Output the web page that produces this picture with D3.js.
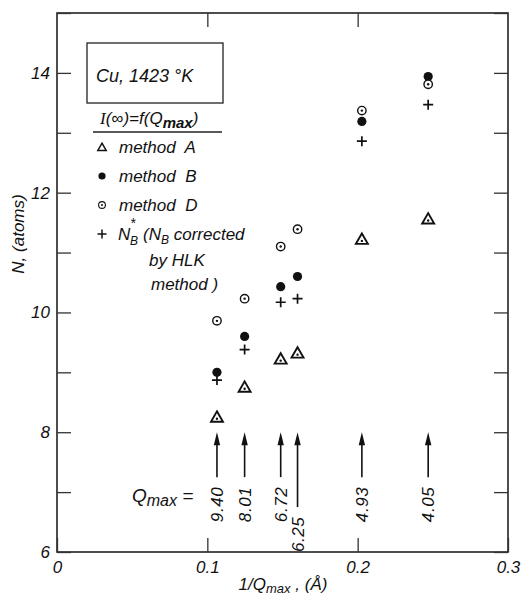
<!DOCTYPE html>
<html>
<head>
<meta charset="utf-8">
<script src="https://cdn.jsdelivr.net/npm/d3@7"></script>
<style>
  body { margin: 0; background: #fff; }
  text { font-family: "Liberation Sans", Arial, sans-serif; font-style: italic; fill: #111; }
</style>
</head>
<body>
<div id="chart"></div>
<script>

// Q_max values (1/Å) and the 1/Q_max positions they give
var qmaxLabels = ['9.40', '8.01', '6.72', '6.25', '4.93', '4.05'];
var invQ = [0.1064, 0.1248, 0.1488, 0.1600, 0.2028, 0.2469];

// coordination numbers N (atoms)
var methodA = [8.25, 8.75, 9.22, 9.32, 11.22, 11.56];
var methodB = [9.00, 9.60, 10.43, 10.60, 13.19, 13.94];
var methodD = [9.86, 10.23, 11.10, 11.39, 13.37, 13.81];
var nbStar  = [8.87, 9.38, 10.17, 10.23, 12.86, 13.47];

// arrow tails (in N units), heads sit at N = 8
var arrowTail = [7.25, 7.25, 7.25, 6.75, 7.25, 7.25];

var xTicks = [0, 0.1, 0.2, 0.3];
var xTickLabels = ['0', '0.1', '0.2', '0.3'];
var yTicks = [6, 7, 8, 9, 10, 11, 12, 13, 14, 15];
var yTickLabels = ['6', '', '8', '', '10', '', '12', '', '14', ''];

var W = 522, H = 598;
var m = {left: 57, top: 13, right: 14, bottom: 46};
var w = W - m.left - m.right, h = H - m.top - m.bottom;

var x = d3.scaleLinear().domain([0, 0.3]).range([0, w]);
var y = d3.scaleLinear().domain([6, 15]).range([h, 0]);

var svg = d3.select('#chart').append('svg')
  .attr('width', W).attr('height', H);

var g = svg.append('g').attr('transform', 'translate(' + m.left + ',' + m.top + ')');

// frame
g.append('rect')
  .attr('width', w).attr('height', h)
  .attr('fill', 'none').attr('stroke', '#222').attr('stroke-width', 1.6);

// axes (inward ticks)
g.append('g')
  .call(d3.axisLeft(y).tickValues(yTicks).tickSize(-14).tickPadding(7)
    .tickFormat(function(d, i){ return yTickLabels[i]; }));
g.append('g').attr('transform', 'translate(' + w + ',0)')
  .call(d3.axisRight(y).tickValues(yTicks).tickSize(-14).tickFormat(''));
g.append('g').attr('transform', 'translate(0,' + h + ')')
  .call(d3.axisBottom(x).tickValues(xTicks).tickSize(-14).tickPadding(9)
    .tickFormat(function(d, i){ return xTickLabels[i]; }));
g.append('g')
  .call(d3.axisTop(x).tickValues([0.1, 0.2]).tickSize(-14).tickFormat(''));

g.selectAll('.domain').remove();
g.selectAll('.tick line').attr('stroke', '#333').attr('stroke-width', 1.3);
g.selectAll('.tick text')
  .style('font-family', '"Liberation Sans", Arial, sans-serif')
  .style('font-style', 'italic')
  .attr('font-size', 17).attr('fill', '#111');

// axis titles
svg.append('text')
  .attr('transform', 'translate(24,' + 234 + ') rotate(-90)')
  .attr('text-anchor', 'middle')
  .attr('font-size', 17)
  .text('N, (atoms)');

var xt = svg.append('text')
  .attr('x', 283).attr('y', 590)
  .attr('text-anchor', 'middle')
  .attr('font-size', 17);
xt.append('tspan').text('1/Q');
xt.append('tspan').attr('dy', 3).attr('font-size', 13).text('max');
xt.append('tspan').attr('dy', -3).text(' , (Å)');

// markers
var data = invQ.map(function(v, i){
  return {x: v, a: methodA[i], b: methodB[i], d: methodD[i], n: nbStar[i], tail: arrowTail[i], lab: qmaxLabels[i]};
});

var tri = d3.symbol().type(d3.symbolTriangle).size(62);

g.selectAll('path.methA')
  .data(data).enter()
  .append('path').classed('methA', true)
  .attr('transform', function(d){ return 'translate(' + x(d.x) + ',' + (y(d.a) + 1) + ')'; })
  .attr('d', tri)
  .attr('fill', 'none').attr('stroke', '#111').attr('stroke-width', 1.9);
g.selectAll('circle.methAdot')
  .data(data).enter()
  .append('circle').classed('methAdot', true)
  .attr('cx', function(d){ return x(d.x); })
  .attr('cy', function(d){ return y(d.a) + 1.5; })
  .attr('r', 1.2).attr('fill', '#111');

g.selectAll('circle.methB')
  .data(data).enter()
  .append('circle').classed('methB', true)
  .attr('cx', function(d){ return x(d.x); })
  .attr('cy', function(d){ return y(d.b); })
  .attr('r', 4.6).attr('fill', '#111');

g.selectAll('circle.methD')
  .data(data).enter()
  .append('circle').classed('methD', true)
  .attr('cx', function(d){ return x(d.x); })
  .attr('cy', function(d){ return y(d.d); })
  .attr('r', 4.2).attr('fill', '#fff').attr('stroke', '#111').attr('stroke-width', 1.4);
g.selectAll('circle.methDdot')
  .data(data).enter()
  .append('circle').classed('methDdot', true)
  .attr('cx', function(d){ return x(d.x); })
  .attr('cy', function(d){ return y(d.d); })
  .attr('r', 1.2).attr('fill', '#111');

var plus = 'M-5,0H5M0,-5V5';
g.selectAll('path.nbstar')
  .data(data).enter()
  .append('path').classed('nbstar', true)
  .attr('transform', function(d){ return 'translate(' + x(d.x) + ',' + y(d.n) + ')'; })
  .attr('d', plus)
  .attr('stroke', '#111').attr('stroke-width', 1.7);

// Q_max arrows
var arrows = g.selectAll('g.arrow')
  .data(data).enter()
  .append('g').classed('arrow', true)
  .attr('transform', function(d){ return 'translate(' + x(d.x) + ',0)'; });

arrows.append('line')
  .attr('y1', function(d){ return y(d.tail); })
  .attr('y2', y(8) + 6)
  .attr('stroke', '#111').attr('stroke-width', 1.6);
arrows.append('path')
  .attr('d', 'M0,' + y(8) + 'L3.2,' + (y(8) + 13) + 'L-3.2,' + (y(8) + 13) + 'Z')
  .attr('fill', '#111');
arrows.append('text')
  .attr('transform', function(d){ return 'translate(6,' + (y(d.tail) + 45) + ') rotate(-90)'; })
  .attr('font-size', 17)
  .attr('letter-spacing', 0.6)
  .text(function(d){ return d.lab; });

var qt = svg.append('text')
  .attr('x', 132).attr('y', 502)
  .attr('font-size', 19);
qt.append('tspan').text('Q');
qt.append('tspan').attr('dy', 4).attr('font-size', 16).text('max');
qt.append('tspan').attr('dy', -4).text('  =');

// legend
svg.append('rect')
  .attr('x', 87).attr('y', 43).attr('width', 136).attr('height', 60)
  .attr('fill', 'none').attr('stroke', '#222').attr('stroke-width', 1.3);
svg.append('text')
  .attr('x', 96).attr('y', 82)
  .attr('font-size', 18)
  .text('Cu, 1423 °K');

var it = svg.append('text')
  .attr('x', 100).attr('y', 124)
  .attr('font-size', 17);
it.append('tspan').style('font-family', '"Liberation Serif", serif').text('I');
it.append('tspan').text('(∞)=f(Q');
it.append('tspan').attr('dy', 4).attr('font-size', 15).attr('font-weight', 'bold').text('max');
it.append('tspan').attr('dy', -4).text(')');
svg.append('line')
  .attr('x1', 93).attr('x2', 222).attr('y1', 132).attr('y2', 132)
  .attr('stroke', '#222').attr('stroke-width', 1.3);

var lg = svg.append('g');
lg.append('path')
  .attr('transform', 'translate(102,148)')
  .attr('d', d3.symbol().type(d3.symbolTriangle).size(30))
  .attr('fill', 'none').attr('stroke', '#111').attr('stroke-width', 1.5);
lg.append('circle').attr('cx', 102).attr('cy', 176).attr('r', 3.6).attr('fill', '#111');
lg.append('circle').attr('cx', 102).attr('cy', 205).attr('r', 3.4)
  .attr('fill', '#fff').attr('stroke', '#111').attr('stroke-width', 1.1);
lg.append('circle').attr('cx', 102).attr('cy', 205).attr('r', 1).attr('fill', '#111');
lg.append('path').attr('transform', 'translate(102,234)').attr('d', 'M-4.5,0H4.5M0,-4.5V4.5')
  .attr('stroke', '#111').attr('stroke-width', 1.5);

var legendRows = [
  {y: 153, t: 'method  A'},
  {y: 182, t: 'method  B'},
  {y: 211, t: 'method  D'}
];
lg.selectAll('text.row')
  .data(legendRows).enter()
  .append('text').classed('row', true)
  .attr('x', 119).attr('y', function(d){ return d.y; })
  .attr('font-size', 17)
  .style('white-space', 'pre')
  .text(function(d){ return d.t; });

// N_B^* : subscript and star stacked after the N
lg.append('text').attr('x', 118).attr('y', 240).attr('font-size', 17).text('N');
lg.append('text').attr('x', 130).attr('y', 245).attr('font-size', 12).text('B');
lg.append('text').attr('x', 130).attr('y', 228).attr('font-size', 14).text('*');
var nt = lg.append('text').attr('x', 143).attr('y', 240).attr('font-size', 17);
nt.append('tspan').text('(N');
nt.append('tspan').attr('dy', 4).attr('font-size', 12).text('B');
nt.append('tspan').attr('dy', -4).text(' corrected');
lg.append('text').attr('x', 149).attr('y', 266).attr('font-size', 17).text('by HLK');
lg.append('text').attr('x', 151).attr('y', 290).attr('font-size', 17).text('method )');

</script>
</body>
</html>
